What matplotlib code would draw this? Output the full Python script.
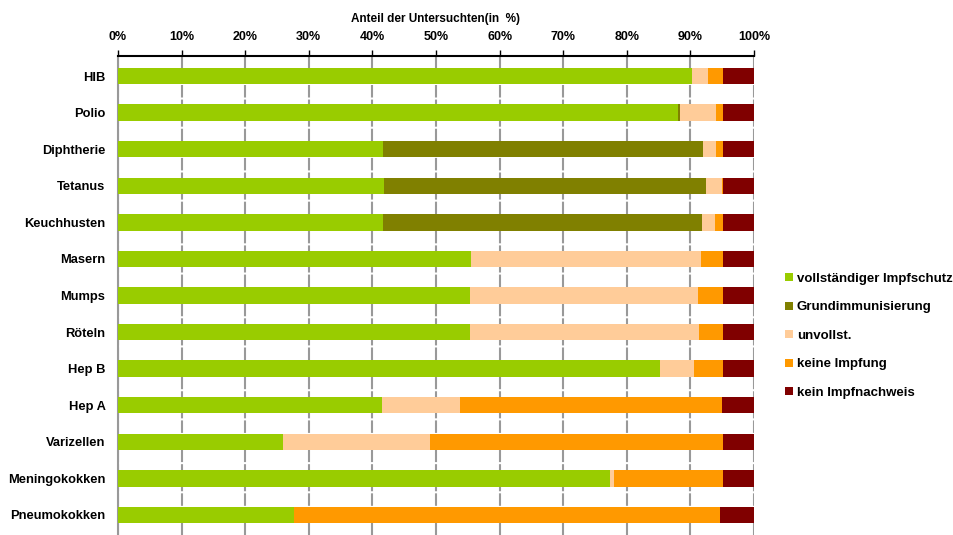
import matplotlib.pyplot as plt
from matplotlib.ticker import FuncFormatter

plt.rcParams['font.family'] = ['Liberation Sans', 'DejaVu Sans']

categories = ['HIB', 'Polio', 'Diphtherie', 'Tetanus', 'Keuchhusten', 'Masern', 'Mumps',
              'Röteln', 'Hep B', 'Hep A', 'Varizellen', 'Meningokokken', 'Pneumokokken']

series_names = ['vollständiger Impfschutz', 'Grundimmunisierung', 'unvollst.',
                'keine Impfung', 'kein Impfnachweis']

vollstaendig = [90.2, 88.1, 41.7, 41.8, 41.7, 55.5, 55.3, 55.3, 85.2, 41.5, 25.9, 77.4, 27.7]
grundimm = [0.0, 0.2, 50.3, 50.6, 50.1, 0.0, 0.0, 0.0, 0.0, 0.0, 0.0, 0.0, 0.0]
unvollst = [2.5, 5.7, 2.1, 2.6, 2.1, 36.2, 35.9, 36.1, 5.4, 12.3, 23.2, 0.6, 0.0]
keine = [2.4, 1.1, 1.0, 0.1, 1.2, 3.4, 3.9, 3.7, 4.5, 41.2, 46.0, 17.1, 67.0]
kein_nachweis = [4.9, 4.9, 4.9, 4.9, 4.9, 4.9, 4.9, 4.9, 4.9, 5.0, 4.9, 4.9, 5.3]

colors = ['#99CC00', '#808000', '#FFCC99', '#FF9900', '#800000']

fig = plt.figure(figsize=(9.54, 5.35), dpi=100)
ax = fig.add_axes([118 / 954, 0.0, 636 / 954, 1 - 56 / 535])

y = list(range(len(categories)))
left = [0.0] * len(categories)
for name, vals, c in zip(series_names, [vollstaendig, grundimm, unvollst, keine, kein_nachweis], colors):
    ax.barh(y, vals, left=left, height=0.45, color=c, label=name, zorder=3)
    left = [l + v for l, v in zip(left, vals)]

ax.set_xlim(0, 100)
ax.set_ylim(len(categories) - 0.45, -0.55)
ax.set_yticks(y)
ax.set_yticklabels(categories, fontsize=9.3, fontweight='bold')
ax.tick_params(axis='y', length=0, pad=9)

ax.xaxis.tick_top()
ax.xaxis.set_label_position('top')
ax.set_xticks(range(0, 101, 10))
ax.xaxis.set_major_formatter(FuncFormatter(lambda v, p: f'{int(v)}%'))
ax.tick_params(axis='x', labelsize=9, length=4, width=1, pad=5)
for lbl in ax.get_xticklabels():
    lbl.set_fontweight('bold')
ax.set_xlabel('Anteil der Untersuchten(in  %)', fontsize=8.5, fontweight='bold', labelpad=7)

ax.grid(axis='x', color='#999999', linestyle=(0, (6, 1)), linewidth=1.5, zorder=0)
ax.spines['top'].set_color('black')
ax.spines['top'].set_linewidth(1.5)
ax.spines['left'].set_color('#999999')
ax.spines['left'].set_linewidth(1.5)
ax.spines['right'].set_visible(False)
ax.spines['bottom'].set_visible(False)

leg = ax.legend(loc='upper left', bbox_to_anchor=(1.03, 0.572), frameon=False,
                handlelength=0.6, handleheight=0.6, handletextpad=0.3, labelspacing=1.25,
                prop={'size': 9.5, 'weight': 'bold'})

fig.savefig('out.png', dpi=100)
